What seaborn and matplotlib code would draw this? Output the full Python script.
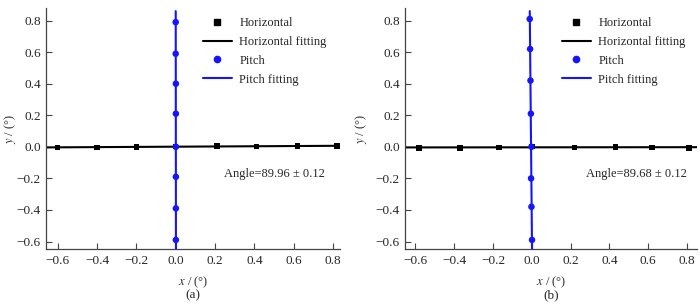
import numpy as np
import pandas as pd
import matplotlib.pyplot as plt
import seaborn as sns
from matplotlib.lines import Line2D

# panel (a)
hor_x_a = [-0.60, -0.40, -0.20, 0.00, 0.21, 0.41, 0.62, 0.82]
hor_y_a = [-0.003, -0.003, -0.002, 0.002, 0.006, 0.003, 0.004, 0.006]
pit_y_a = [0.79, 0.59, 0.40, 0.21, 0.00, -0.19, -0.39, -0.59]
pit_x_a = [0.000, 0.000, 0.001, 0.001, 0.001, 0.001, 0.001, 0.001]
angle_a = 'Angle=89.96 ± 0.12'

# panel (b)
hor_x_b = [-0.58, -0.37, -0.17, 0.00, 0.22, 0.43, 0.62, 0.81]
hor_y_b = [-0.006, -0.006, -0.003, 0.003, -0.003, 0.000, -0.003, -0.006]
pit_y_b = [0.81, 0.62, 0.42, 0.21, 0.00, -0.20, -0.38, -0.59]
pit_x_b = [-0.011, -0.009, -0.007, -0.005, -0.002, -0.004, -0.002, 0.001]
angle_b = 'Angle=89.68 ± 0.12'

xticks = [-0.6, -0.4, -0.2, 0.0, 0.2, 0.4, 0.6, 0.8]
yticks = [-0.6, -0.4, -0.2, 0.0, 0.2, 0.4, 0.6, 0.8]

sns.set_style('ticks')
plt.rcParams['font.family'] = ['Liberation Serif', 'DejaVu Serif']
plt.rcParams['mathtext.fontset'] = 'stix'
fs = 9.5

blue = '#1414ff'
fig = plt.figure(figsize=(7, 3.06), dpi=100)
axes = [fig.add_axes([0.066, 0.186, 0.420, 0.788]),
        fig.add_axes([0.579, 0.186, 0.417, 0.788])]

panels = [(hor_x_a, hor_y_a, pit_x_a, pit_y_a, angle_a, '(a)', (-0.658, 0.836), 0.50, -0.095, 203),
          (hor_x_b, hor_y_b, pit_x_b, pit_y_b, angle_b, '(b)', (-0.652, 0.852), 0.54, -0.123, 562)]
ylim = (-0.648, 0.88)

for ax, (hx, hy, px, py, ang, tag, xlim, angx, ylx, legx) in zip(axes, panels):
    hor = pd.DataFrame({'x': hx, 'y': hy})
    pit = pd.DataFrame({'x': px, 'y': py})
    # linear fits
    a, b = np.polyfit(hor['x'], hor['y'], 1)
    c, d = np.polyfit(pit['y'], pit['x'], 1)
    fx = np.array(xlim)
    fy = np.array([ylim[0], 0.86])
    ax.plot(fx, a * fx + b, color='black', lw=1.5, zorder=2)
    ax.plot(c * fy + d, fy, color=blue, lw=1.5, zorder=3)
    sns.scatterplot(data=hor, x='x', y='y', ax=ax, marker='s', s=16,
                    color='black', edgecolor='none', zorder=4)
    sns.scatterplot(data=pit, x='x', y='y', ax=ax, marker='o', s=22,
                    color=blue, edgecolor='none', zorder=5)
    ax.set_xlim(xlim)
    ax.set_ylim(ylim)
    ax.set_xticks(xticks)
    ax.set_yticks(yticks)
    ax.xaxis.set_major_formatter(plt.FuncFormatter(lambda v, p: f'{v:.1f}'.replace('-', '−')))
    ax.yaxis.set_major_formatter(plt.FuncFormatter(lambda v, p: f'{v:.1f}'.replace('-', '−')))
    ax.tick_params(direction='in', length=4, width=0.8, color='#444444', labelsize=fs, pad=4)
    sns.despine(ax=ax)
    for s in ['left', 'bottom']:
        ax.spines[s].set_color('#444444')
        ax.spines[s].set_linewidth(0.9)
    ax.set_xlabel(r'$\it{x}$ / (°)', fontsize=9)
    ax.set_ylabel(r'$\it{y}$ / (°)', fontsize=9)
    ax.xaxis.set_label_coords(0.5, -0.105)
    ax.yaxis.set_label_coords(ylx, 0.5)
    ax.text(angx, -0.17, ang, ha='center', va='center', fontsize=9)
    ax.text(0.5, -0.19, tag, transform=ax.transAxes, ha='center', va='center', fontsize=fs)
    handles = [Line2D([], [], color='black', marker='s', ls='none', ms=4),
               Line2D([], [], color='black', lw=1.5),
               Line2D([], [], color=blue, marker='o', ls='none', ms=4.5),
               Line2D([], [], color=blue, lw=1.5)]
    ax.legend(handles, ['Horizontal', 'Horizontal fitting', 'Pitch', 'Pitch fitting'],
              loc='upper left', bbox_to_anchor=(legx / 700, 1 - 17 / 306),
              bbox_transform=fig.transFigure, borderpad=0, borderaxespad=0,
              frameon=False, fontsize=9, handlelength=2.3, labelspacing=0.55,
              handletextpad=0.6)

fig.savefig('out.png', dpi=100)
